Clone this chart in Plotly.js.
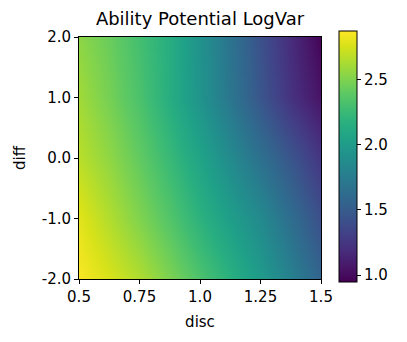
<!DOCTYPE html>
<html>
<head>
<meta charset="utf-8">
<script src="https://cdn.plot.ly/plotly-3.0.1.min.js"></script>
<style>
  html, body { margin: 0; padding: 0; background: #fff; }
  #chart { width: 407px; height: 342px; }
</style>
</head>
<body>
<div id="chart"></div>
<script>
'use strict';

// disc along x, diff along y
const disc = [0.5, 0.625, 0.75, 0.875, 1.0, 1.125, 1.25, 1.375, 1.5];
const diff = [-2, -1, 0, 1, 2];

// log-variance, one row per diff value
const rowDiffM2 = [2.86, 2.76, 2.64, 2.49, 2.33, 2.17, 1.99, 1.78, 1.56];
const rowDiffM1 = [2.79, 2.65, 2.50, 2.35, 2.18, 2.02, 1.85, 1.63, 1.41];
const rowDiff0 = [2.67, 2.55, 2.40, 2.24, 2.06, 1.86, 1.65, 1.45, 1.24];
const rowDiff1 = [2.60, 2.47, 2.32, 2.14, 1.93, 1.70, 1.45, 1.22, 1.04];
const rowDiff2 = [2.54, 2.43, 2.29, 2.14, 1.92, 1.68, 1.42, 1.18, 0.96];

const xTicks = [0.5, 0.75, 1.0, 1.25, 1.5];
const xTickText = ['0.5', '0.75', '1.0', '1.25', '1.5'];
const yTicks = [-2, -1, 0, 1, 2];
const yTickText = ['-2.0', '-1.0', '0.0', '1.0', '2.0'];
const cbTicks = [1.0, 1.5, 2.0, 2.5];
const cbTickText = ['1.0', '1.5', '2.0', '2.5'];

const font = {family: 'DejaVu Sans, sans-serif', size: 15, color: '#000'};

const trace = {
  type: 'heatmap',
  x: disc,
  y: diff,
  z: [rowDiffM2, rowDiffM1, rowDiff0, rowDiff1, rowDiff2],
  colorscale: 'Viridis',
  zsmooth: 'best',
  zmin: 0.946,
  zmax: 2.87,
  hoverinfo: 'x+y+z',
  colorbar: {
    x: 1.074,
    xanchor: 'left',
    y: 0.506,
    yanchor: 'middle',
    len: 251,
    lenmode: 'pixels',
    thickness: 18,
    outlinewidth: 1,
    outlinecolor: '#000',
    ticks: 'outside',
    ticklen: 4,
    tickcolor: '#000',
    tickvals: cbTicks,
    ticktext: cbTickText,
    tickfont: font,
    xpad: 0,
    ypad: 0
  }
};

const axisCommon = {
  showgrid: false,
  zeroline: false,
  showline: true,
  mirror: true,
  linecolor: '#000',
  linewidth: 1,
  ticks: 'outside',
  ticklen: 4,
  tickcolor: '#000',
  tickfont: font
};

const layout = {
  width: 407,
  height: 342,
  margin: {l: 79, r: 86, t: 37, b: 63, pad: 0},
  paper_bgcolor: '#fff',
  plot_bgcolor: '#fff',
  font: font,
  title: {
    text: 'Ability Potential LogVar',
    font: {family: 'DejaVu Sans, sans-serif', size: 18, color: '#000'},
    xref: 'paper',
    x: 0.5,
    xanchor: 'center',
    yref: 'container',
    y: 0.945,
    yanchor: 'middle'
  },
  xaxis: Object.assign({}, axisCommon, {
    range: [0.5, 1.5],
    tickvals: xTicks,
    ticktext: xTickText,
    title: {text: 'disc', font: font, standoff: 11}
  }),
  yaxis: Object.assign({}, axisCommon, {
    range: [-2, 2],
    tickvals: yTicks,
    ticktext: yTickText,
    title: {text: 'diff', font: font, standoff: 12}
  })
};

Plotly.newPlot('chart', [trace], layout, {displayModeBar: false, staticPlot: true});
</script>
</body>
</html>
